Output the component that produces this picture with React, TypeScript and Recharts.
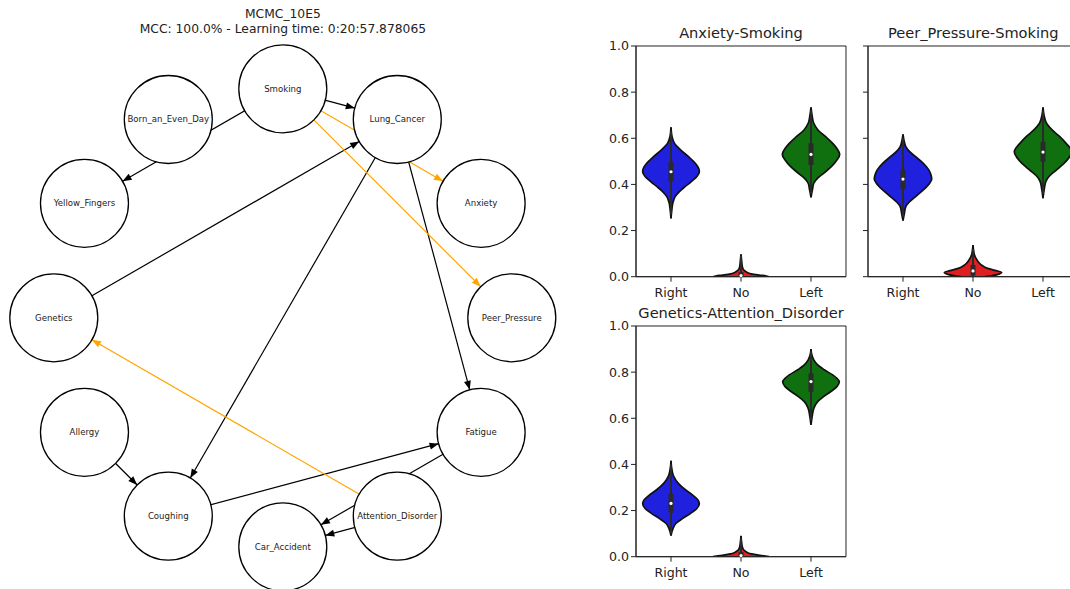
import React from 'react';
import {
  ScatterChart,
  Scatter,
  ComposedChart,
  Area,
  XAxis,
  YAxis,
  ReferenceLine,
  ReferenceDot,
  ReferenceArea,
} from 'recharts';

const FONT = '"DejaVu Sans", Verdana, sans-serif';
const INK = '#222';

// ---- network ----
const graphTitle = ['MCMC_10E5', 'MCC: 100.0% - Learning time: 0:20:57.878065'];

// circular layout order, starting at 3 o'clock and going counter-clockwise
const nodeNames = [
  'Peer_Pressure',
  'Anxiety',
  'Lung_Cancer',
  'Smoking',
  'Born_an_Even_Day',
  'Yellow_Fingers',
  'Genetics',
  'Allergy',
  'Coughing',
  'Car_Accident',
  'Attention_Disorder',
  'Fatigue',
];

const blackEdges = [
  ['Smoking', 'Lung_Cancer'],
  ['Smoking', 'Yellow_Fingers'],
  ['Genetics', 'Lung_Cancer'],
  ['Lung_Cancer', 'Coughing'],
  ['Lung_Cancer', 'Fatigue'],
  ['Allergy', 'Coughing'],
  ['Coughing', 'Fatigue'],
  ['Fatigue', 'Car_Accident'],
  ['Attention_Disorder', 'Car_Accident'],
];

const orangeEdges = [
  ['Smoking', 'Anxiety'],
  ['Smoking', 'Peer_Pressure'],
  ['Attention_Disorder', 'Genetics'],
];

// ---- violins ----
const categories = ['Right', 'No', 'Left'];
const valueTicks = [0, 0.2, 0.4, 0.6, 0.8, 1.0];
const violinColors = ['#2020df', '#df2020', '#107010'];

// [value, half width] pairs, bottom to top
const anxietyRight = [
  [0.253, 0], [0.29, 0.012], [0.318, 0.025], [0.347, 0.06], [0.369, 0.12], [0.39, 0.2],
  [0.412, 0.29], [0.434, 0.37], [0.455, 0.405], [0.47, 0.395], [0.491, 0.35], [0.52, 0.25],
  [0.549, 0.14], [0.578, 0.05], [0.607, 0.015], [0.648, 0],
];
const anxietyNo = [
  [0, 0.4], [0.003, 0.36], [0.007, 0.26], [0.012, 0.15], [0.018, 0.09], [0.027, 0.045],
  [0.04, 0.022], [0.06, 0.012], [0.08, 0.006], [0.097, 0],
];
const anxietyLeft = [
  [0.344, 0], [0.376, 0.02], [0.405, 0.04], [0.427, 0.095], [0.448, 0.18], [0.477, 0.29],
  [0.506, 0.37], [0.53, 0.41], [0.556, 0.37], [0.578, 0.31], [0.607, 0.21], [0.636, 0.1],
  [0.665, 0.04], [0.7, 0.015], [0.734, 0],
];
// [whisker low, q1, median, q3, whisker high]
const anxietyBoxes = [
  [0.27, 0.412, 0.455, 0.498, 0.63],
  [0, 0, 0.005, 0.02, 0.09],
  [0.36, 0.484, 0.53, 0.578, 0.72],
];

const peerRight = [
  [0.243, 0], [0.275, 0.02], [0.304, 0.04], [0.325, 0.095], [0.347, 0.18], [0.376, 0.29],
  [0.405, 0.38], [0.423, 0.41], [0.441, 0.4], [0.462, 0.37], [0.491, 0.29], [0.52, 0.18],
  [0.542, 0.095], [0.564, 0.04], [0.59, 0.015], [0.617, 0],
];
const peerNo = [
  [0, 0.17], [0.004, 0.26], [0.01, 0.36], [0.019, 0.41], [0.026, 0.33], [0.036, 0.21],
  [0.051, 0.12], [0.072, 0.057], [0.095, 0.02], [0.115, 0.008], [0.137, 0],
];
const peerLeft = [
  [0.34, 0], [0.383, 0.02], [0.412, 0.04], [0.434, 0.085], [0.462, 0.19], [0.491, 0.3],
  [0.52, 0.38], [0.542, 0.41], [0.556, 0.39], [0.578, 0.33], [0.607, 0.24], [0.636, 0.13],
  [0.665, 0.05], [0.7, 0.015], [0.734, 0],
];
const peerBoxes = [
  [0.26, 0.38, 0.423, 0.466, 0.6],
  [0, 0.005, 0.025, 0.051, 0.12],
  [0.36, 0.498, 0.54, 0.585, 0.72],
];

const geneticsRight = [
  [0.091, 0], [0.123, 0.03], [0.144, 0.07], [0.166, 0.17], [0.188, 0.28], [0.209, 0.37],
  [0.231, 0.405], [0.248, 0.38], [0.267, 0.31], [0.289, 0.21], [0.318, 0.105], [0.347, 0.04],
  [0.38, 0.012], [0.416, 0],
];
const geneticsNo = [
  [0, 0.4], [0.003, 0.35], [0.007, 0.25], [0.012, 0.15], [0.018, 0.09], [0.027, 0.045],
  [0.04, 0.022], [0.06, 0.01], [0.09, 0],
];
const geneticsLeft = [
  [0.571, 0], [0.614, 0.02], [0.643, 0.04], [0.672, 0.095], [0.694, 0.18], [0.715, 0.28],
  [0.737, 0.37], [0.759, 0.405], [0.773, 0.37], [0.788, 0.31], [0.81, 0.19], [0.831, 0.095],
  [0.853, 0.04], [0.875, 0.012], [0.9, 0],
];
const geneticsBoxes = [
  [0.1, 0.191, 0.231, 0.272, 0.4],
  [0, 0, 0.005, 0.02, 0.08],
  [0.59, 0.715, 0.759, 0.795, 0.89],
];

// ---- network drawing ----
const PX_PER_UNIT = 229;
const SPAN = 1.2;
const NODE_R = 44;
const R_UNIT = NODE_R / PX_PER_UNIT;

const positions: Record<string, { x: number; y: number }> = {};
nodeNames.forEach((name, i) => {
  const t = (2 * Math.PI * i) / nodeNames.length;
  positions[name] = { x: Math.cos(t), y: Math.sin(t) };
});
const nodeData = nodeNames.map((name) => ({ name, ...positions[name] }));

function edgeData(src: string, dst: string) {
  const a = positions[src];
  const b = positions[dst];
  const dx = b.x - a.x;
  const dy = b.y - a.y;
  const len = Math.hypot(dx, dy);
  const ux = dx / len;
  const uy = dy / len;
  return [
    { x: a.x, y: a.y, head: false },
    { x: b.x - ux * R_UNIT, y: b.y - uy * R_UNIT, head: true, ux, uy },
  ];
}

const arrowHead = (color: string) => (p: any) => {
  const { cx, cy, payload } = p;
  if (!payload || !payload.head) return <g />;
  const a = Math.atan2(-payload.uy, payload.ux);
  const L = 9;
  const W = 3.5;
  const bx = cx - L * Math.cos(a);
  const by = cy - L * Math.sin(a);
  const nx = -Math.sin(a) * W;
  const ny = Math.cos(a) * W;
  return (
    <polygon
      points={`${cx},${cy} ${bx + nx},${by + ny} ${bx - nx},${by - ny}`}
      fill={color}
    />
  );
};

const NodeShape = (p: any) => {
  const { cx, cy, payload } = p;
  return (
    <g>
      <circle cx={cx} cy={cy} r={NODE_R} fill="#fff" stroke="#000" strokeWidth={1.3} />
      <text
        x={cx}
        y={cy}
        textAnchor="middle"
        dominantBaseline="central"
        fontSize={8.6}
        fontFamily={FONT}
        fill={INK}
      >
        {payload.name}
      </text>
    </g>
  );
};

function Network() {
  const size = 2 * SPAN * PX_PER_UNIT;
  const cx = 282.9;
  const cy = 317.7;
  const edges = [
    ...blackEdges.map(([s, d]) => ({ s, d, color: '#000' })),
    ...orangeEdges.map(([s, d]) => ({ s, d, color: '#ffa500' })),
  ];
  return (
    <>
      <div
        style={{
          position: 'absolute',
          left: cx - 250,
          width: 500,
          top: 7,
          textAlign: 'center',
          fontSize: 12.3,
          lineHeight: '14.5px',
          color: INK,
        }}
      >
        <div>{graphTitle[0]}</div>
        <div>{graphTitle[1]}</div>
      </div>
      <div style={{ position: 'absolute', left: cx - size / 2, top: cy - size / 2 }}>
        <ScatterChart width={size} height={size} margin={{ top: 0, right: 0, bottom: 0, left: 0 }}>
          <XAxis type="number" dataKey="x" domain={[-SPAN, SPAN]} allowDataOverflow hide />
          <YAxis type="number" dataKey="y" domain={[-SPAN, SPAN]} allowDataOverflow hide />
          {edges.map((e, i) => (
            <Scatter
              key={`e${i}`}
              data={edgeData(e.s, e.d)}
              fill={e.color}
              line={{ stroke: e.color, strokeWidth: 1.2 }}
              lineType="joint"
              shape={arrowHead(e.color)}
              isAnimationActive={false}
            />
          ))}
          <Scatter data={nodeData} shape={NodeShape} isAnimationActive={false} />
        </ScatterChart>
      </div>
    </>
  );
}

// ---- violin panels ----
const PLOT_W = 210;
const PLOT_H = 230.7;
const TOP_PAD = 10;
const X_AXIS_H = 30;

function ViolinPanel(props: {
  left: number;
  top: number;
  title: string;
  violins: number[][][];
  boxes: number[][];
  yLabels: boolean;
}) {
  const { left, top, title, violins, boxes, yLabels } = props;
  const yw = yLabels ? 40 : 10;
  const tickStyle = { fontSize: 12.6, fill: INK, fontFamily: FONT };
  return (
    <>
      <div
        style={{
          position: 'absolute',
          left: left + PLOT_W / 2 - 150,
          width: 300,
          top: top - 22,
          textAlign: 'center',
          fontSize: 14.6,
          lineHeight: '18px',
          color: INK,
        }}
      >
        {title}
      </div>
      <div style={{ position: 'absolute', left: left - yw, top: top - TOP_PAD }}>
        <ComposedChart
          layout="vertical"
          width={yw + PLOT_W + 4}
          height={TOP_PAD + PLOT_H + X_AXIS_H}
          margin={{ top: TOP_PAD, right: 4, bottom: 0, left: 0 }}
        >
          <XAxis
            type="number"
            domain={[-0.5, 2.5]}
            ticks={[0, 1, 2]}
            tickFormatter={(i: number) => categories[i]}
            allowDataOverflow
            height={X_AXIS_H}
            tick={tickStyle}
            tickSize={5}
            tickMargin={6}
            stroke={INK}
          />
          <YAxis
            type="number"
            dataKey="v"
            domain={[0, 1]}
            ticks={valueTicks}
            reversed
            allowDataOverflow
            width={yw}
            tick={tickStyle}
            tickSize={5}
            tickMargin={2}
            tickFormatter={(v: number) => (yLabels ? v.toFixed(1) : '')}
            stroke={INK}
          />
          {violins.map((prof, i) => (
            <Area
              key={`v${i}`}
              data={prof.map(([v, w]) => ({ v, band: [i - w, i + w] }))}
              dataKey="band"
              type="monotone"
              fill={violinColors[i]}
              fillOpacity={1}
              stroke="#111"
              strokeWidth={1.7}
              dot={false}
              activeDot={false}
              isAnimationActive={false}
            />
          ))}
          {boxes.map((b, i) => (
            <ReferenceLine
              key={`w${i}`}
              segment={[{ x: i, y: b[0] }, { x: i, y: b[4] }]}
              stroke="#2a2a2a"
              strokeWidth={2}
              ifOverflow="visible"
            />
          ))}
          {boxes.map((b, i) => (
            <ReferenceLine
              key={`b${i}`}
              segment={[{ x: i, y: b[1] }, { x: i, y: b[3] }]}
              stroke="#2a2a2a"
              strokeWidth={5}
              ifOverflow="visible"
            />
          ))}
          {boxes.map((b, i) => (
            <ReferenceDot
              key={`m${i}`}
              x={i}
              y={b[2]}
              r={1.6}
              fill="#fff"
              stroke="none"
              ifOverflow="visible"
            />
          ))}
          <ReferenceArea
            x1={-0.5}
            x2={2.5}
            y1={0}
            y2={1}
            fill="none"
            stroke={INK}
            strokeWidth={1}
            ifOverflow="visible"
          />
        </ComposedChart>
      </div>
    </>
  );
}

export default function App() {
  return (
    <div
      style={{
        position: 'absolute',
        left: 0,
        top: 0,
        width: 1070,
        height: 589,
        overflow: 'hidden',
        background: '#fff',
        fontFamily: FONT,
      }}
    >
      <Network />
      <ViolinPanel
        left={636}
        top={46}
        title="Anxiety-Smoking"
        violins={[anxietyRight, anxietyNo, anxietyLeft]}
        boxes={anxietyBoxes}
        yLabels
      />
      <ViolinPanel
        left={868.3}
        top={46}
        title="Peer_Pressure-Smoking"
        violins={[peerRight, peerNo, peerLeft]}
        boxes={peerBoxes}
        yLabels={false}
      />
      <ViolinPanel
        left={636}
        top={326}
        title="Genetics-Attention_Disorder"
        violins={[geneticsRight, geneticsNo, geneticsLeft]}
        boxes={geneticsBoxes}
        yLabels
      />
    </div>
  );
}
